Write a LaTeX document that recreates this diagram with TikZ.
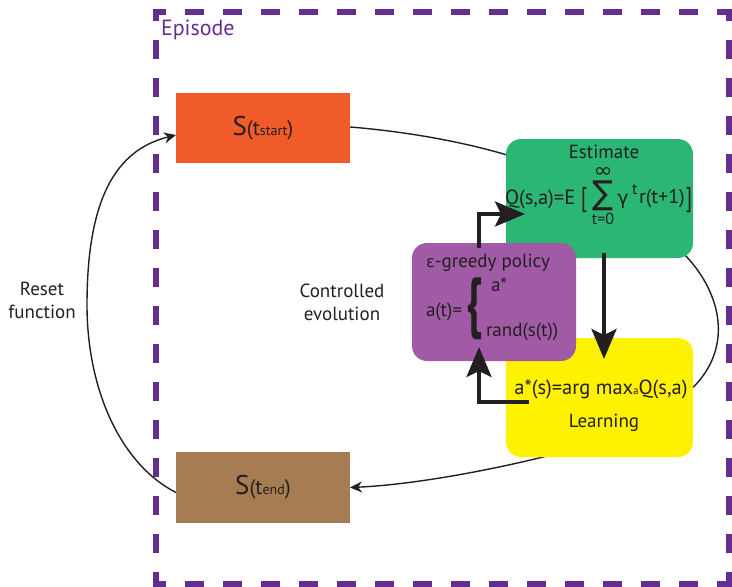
\documentclass[tikz,border=0pt]{standalone}
\usepackage{fontspec}
\usepackage{graphicx}
\setmainfont{PT Sans}
\newfontfamily\symfont{DejaVu Sans}
\usetikzlibrary{arrows.meta,calc}

\definecolor{ink}{HTML}{231F20}
\definecolor{framepurple}{HTML}{662D91}
\definecolor{startfill}{HTML}{F15A29}
\definecolor{estfill}{HTML}{2BB673}
\definecolor{polfill}{HTML}{A05AA6}
\definecolor{learnfill}{HTML}{FFF200}
\definecolor{endfill}{HTML}{A67C52}

\pgfdeclarelayer{bg}
\pgfsetlayers{bg,main}

% state label S(t_x) with a small index
\newcommand\statelabel[1]{{\fontsize{27}{30}\selectfont S}{\fontsize{21}{24}\selectfont(t}{\fontsize{14}{16}\selectfont #1}{\fontsize{21}{24}\selectfont)}}

\begin{document}
\begin{tikzpicture}[x=1pt,y=-1pt,
  every node/.style={text=ink, inner sep=0pt, outer sep=0pt},
  txt/.style={font=\fontsize{19}{23}\selectfont},
  statebox/.style={minimum width=174pt, minimum height=70pt},
  stagebox/.style={rounded corners=15pt, minimum width=187pt, minimum height=119pt},
  framedash/.style={draw=framepurple, line width=6pt, dash pattern=on 19pt off 19pt},
  link/.style={draw=ink, line width=1.4pt},
  smalltip/.style={-{Stealth[length=12pt,width=11pt]}},
  bigarrow/.style={draw=ink, line width=4pt, line join=miter,
    -{Stealth[length=30pt,width=25pt,inset=6pt]}}
]
\useasboundingbox (0,0) rectangle (732,587);

% episode frame
\draw[framedash, dash phase=7pt] (156,9) -- (156,587);
\draw[framedash, dash phase=7pt] (729,9) -- (729,587);
\draw[framedash, dash phase=6pt] (153,12) -- (732,12);
\draw[framedash, dash phase=6pt] (153,584) -- (732,584);
\node[anchor=west, text=framepurple, font=\fontsize{22}{26}\selectfont] (episode) at (161,30) {Episode};

% boxes
\node[statebox, fill=startfill] (start) at (263,128) {\statelabel{start}};
\node[statebox, fill=endfill, minimum height=71pt] (end) at (263,487.5) {\statelabel{end}};
\node[stagebox, fill=estfill] (est) at (599.5,198.5) {};
\node[stagebox, fill=learnfill] (learn) at (599.5,397.5) {};
\node[stagebox, fill=polfill, minimum width=164pt, minimum height=118pt] (pol) at (494,302) {};

% thin connectors behind the boxes
\begin{pgfonlayer}{bg}
\draw[link] ($(start.east)+(0,-1)$) .. controls +(50,4) and +(-52,-16) .. ($(est.west)+(6,-42)$);
\draw[link] ($(est.south east)+(-10,-5)$) .. controls +(37,37) and +(42,-42) .. ($(learn.east)+(0,-10)$);
\draw[link, smalltip] ($(learn.south west)+(45,-2)$) .. controls +(-51,13) and +(68,-3) .. (end.east);
\coordinate (resetmid) at (87,305);
\draw[link, smalltip] ($(end.west)+(0,5)$) .. controls +(-55,-28) and +(0,85) .. (resetmid)
  .. controls +(0,-105) and +(-61,15) .. ($(start.west)+(0,7)$);
\end{pgfonlayer}

% estimate box text
\node[txt] (esttitle) at (604,152) {Estimate};
\node[font=\fontsize{20.5}{24}\selectfont, anchor=west] (qlhs) at (505,199) {Q(s,a)=E};
\node (lbr) at (584,200) {\scalebox{1}[1.3]{\fontsize{21}{24}\selectfont[}};
\node[anchor=north] (sum) at (603,167.5) {\shortstack{\resizebox*{19pt}{10pt}{\symfont ∞}\\
  \resizebox*{21pt}{30pt}{\symfont ∑}\\
  {\fontsize{16}{18}\selectfont t=0}}};
\node[font=\fontsize{19}{22}\selectfont] (gamma) at (623,201) {\symfont γ};
\node[font=\fontsize{16}{18}\selectfont, anchor=south west] (gexp) at (632,195) {t};
\node[font=\fontsize{20}{23}\selectfont, anchor=west] (rterm) at (639,199) {r(t+1)};
\node (rbr) at (689,200) {\scalebox{1}[1.3]{\fontsize{21}{24}\selectfont]}};

% policy box text
\node[txt] (greedy) at (488,263) {{\symfont\fontsize{16}{18}\selectfont ε}-greedy policy};
\node[txt, anchor=west] (aoft) at (426,312) {a(t)=};
\node (brace) at (474.5,309) {\resizebox*{16pt}{62pt}{\bfseries\{}};
\node[txt, anchor=west] (astar) at (491,285) {a*};
\node[txt, anchor=west] (rand) at (486,332) {rand(s(t))};

% learning box text
\node[font=\fontsize{20.5}{24}\selectfont] (argmax) at (601,389) {a*(s)=arg max{\fontsize{11}{12}\selectfont a}Q(s,a)};
\node[txt] (learnlbl) at (604,423) {Learning};

% side labels
\node[txt, align=center] (reset) at (42,300) {Reset\\function};
\node[txt, align=center] (ctrl) at (342,302) {Controlled\\evolution};

% control flow arrows
\draw[bigarrow] ($(pol.north)+(-15,5)$) |- ($(est.west)+(19,15.5)$);
\draw[bigarrow] ($(est.south)+(4.5,-5)$) -- ($(learn.north)+(4.5,21)$);
\draw[bigarrow] ($(learn.west)+(23,4.5)$) -| ($(pol.south)+(-15,-14)$);
\end{tikzpicture}
\end{document}
